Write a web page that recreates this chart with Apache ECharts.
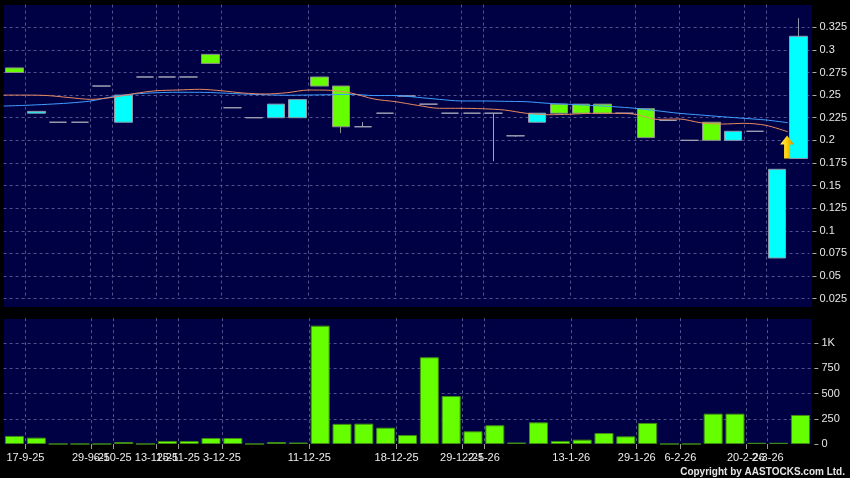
<!DOCTYPE html>
<html><head><meta charset="utf-8">
<script src="https://cdn.jsdelivr.net/npm/echarts@6/dist/echarts.min.js"></script>
<style>html,body{margin:0;padding:0;background:#000;}#c{width:850px;height:478px;}</style>
</head><body><div id="c"></div>
<script>
// ---- data ----
const opens  = [0.28,0.23,0.22,0.22,0.26,0.22,0.27,0.27,0.27,0.295,0.236,0.225,0.225,0.225,0.27,0.26,0.215,0.23,0.249,0.24,0.23,0.23,0.23,0.205,0.22,0.24,0.24,0.24,0.23,0.235,0.222,0.2,0.22,0.2,0.21,0.07,0.18];
const closes = [0.275,0.232,0.22,0.22,0.26,0.25,0.27,0.27,0.27,0.285,0.236,0.225,0.24,0.245,0.26,0.215,0.215,0.23,0.249,0.24,0.23,0.23,0.23,0.205,0.23,0.23,0.23,0.23,0.23,0.203,0.222,0.2,0.2,0.21,0.21,0.168,0.315];
const lows   = [0.275,0.23,0.22,0.22,0.26,0.22,0.27,0.27,0.27,0.285,0.236,0.225,0.225,0.225,0.26,0.208,0.215,0.23,0.249,0.24,0.23,0.23,0.177,0.204,0.22,0.23,0.23,0.23,0.23,0.203,0.222,0.2,0.2,0.2,0.21,0.07,0.18];
const highs  = [0.28,0.232,0.22,0.22,0.26,0.25,0.27,0.27,0.27,0.295,0.236,0.225,0.24,0.245,0.27,0.26,0.22,0.23,0.249,0.24,0.23,0.23,0.23,0.205,0.23,0.24,0.24,0.24,0.23,0.235,0.222,0.2,0.22,0.21,0.21,0.168,0.335];
const volumes = [80,63,0,0,0,20,0,30,30,60,60,0,20,15,1175,200,202,162,89,861,477,126,186,15,215,30,43,109,76,209,0,0,301,301,12,12,288];
const maOrange = [0.250,0.250,0.2495,0.2473,0.2453,0.2475,0.2517,0.2548,0.2556,0.2564,0.2548,0.2523,0.2512,0.2526,0.2556,0.2553,0.2520,0.2457,0.2427,0.2387,0.2354,0.2354,0.2349,0.2335,0.2299,0.2283,0.2288,0.2299,0.2299,0.2288,0.2232,0.2236,0.2195,0.2180,0.2188,0.2166,0.2095];
const maBlue = [0.2379,0.2387,0.2398,0.2412,0.2435,0.2482,0.2512,0.2526,0.2531,0.2531,0.2523,0.2512,0.2504,0.2498,0.2501,0.2504,0.2508,0.2495,0.2495,0.2475,0.2453,0.2435,0.2435,0.2431,0.2427,0.2409,0.2398,0.2385,0.2372,0.2354,0.2327,0.2299,0.2280,0.2261,0.2243,0.2225,0.2195];
// tick labels at slot boundaries (38 boundaries for 37 slots)
const boundaryLabels = ['','17-9-25','','','29-9-25','6-10-25','','13-11-25','25-11-25','','3-12-25','','','','11-12-25','','','','18-12-25','','','29-12-25','2-1-26','','','','13-1-26','','','29-1-26','','6-2-26','','','20-2-26','2-3-26','',''];
const priceAxis = {min: 0.025, max: 0.35, step: 0.025};
const volumeAxis = {min: 0, max: 1250, step: 250};
const arrowIndex = 36;
const copyright = 'Copyright by AASTOCKS.com Ltd.';

// ---- chart ----
const slots = opens.map((_, i) => String(i));
const candles = opens.map((o, i) => [o, closes[i], lows[i], highs[i]]);
const FONT = 'Liberation Sans, Arial, sans-serif';
const GRID_LINE = {color: '#50528c', width: 1, type: [3, 3]};
const labeled = (i, v) => v !== '';
const lastB = boundaryLabels.length - 1;
const labeledOrEnd = (i, v) => v !== '' || i === 0 || i === lastB;

const chart = echarts.init(document.getElementById('c'), null, {renderer: 'canvas'});
chart.setOption({
  animation: false,
  backgroundColor: '#000000',
  textStyle: {fontFamily: FONT},
  graphic: [
    {type: 'rect', z: -10, shape: {x: 4, y: 5, width: 808, height: 302}, style: {fill: '#000045'}, silent: true},
    {type: 'rect', z: -10, shape: {x: 4, y: 319, width: 808, height: 125}, style: {fill: '#000045'}, silent: true},
    {type: 'text', right: 5, bottom: 1, style: {text: copyright, fill: '#e6e6e6', font: 'bold 10px ' + FONT}}
  ],
  grid: [
    {left: 3.6, width: 807.8, top: 4.6, height: 294.1},
    {left: 3.6, width: 807.8, top: 318.1, height: 125.9}
  ],
  xAxis: [
    {type: 'category', gridIndex: 0, position: 'top', data: slots, boundaryGap: true, show: false},
    {type: 'category', gridIndex: 0, position: 'bottom', data: boundaryLabels, boundaryGap: false,
      axisLine: {show: false}, axisTick: {show: false}, axisLabel: {show: false},
      splitLine: {show: true, interval: labeled, lineStyle: GRID_LINE}},
    {type: 'category', gridIndex: 1, position: 'top', data: slots, boundaryGap: true, show: false},
    {type: 'category', gridIndex: 1, position: 'bottom', data: boundaryLabels, boundaryGap: false,
      axisLine: {show: false},
      axisTick: {show: true, interval: labeled, length: 5, lineStyle: {color: '#9a9a9a'}},
      axisLabel: {show: true, interval: labeledOrEnd, color: '#ececec', fontSize: 11, margin: 8, fontFamily: FONT,
        hideOverlap: false},
      splitLine: {show: true, interval: labeled, lineStyle: GRID_LINE}}
  ],
  yAxis: [
    {type: 'value', gridIndex: 0, position: 'right', offset: 3,
      min: priceAxis.min, max: priceAxis.max, interval: priceAxis.step,
      axisLine: {show: false},
      axisTick: {show: true, length: 4, lineStyle: {color: '#aaaaaa'}},
      axisLabel: {color: '#e6e6e6', fontSize: 11, margin: 7, showMaxLabel: false, fontFamily: FONT,
        formatter: v => String(parseFloat(v.toFixed(3)))},
      splitLine: {show: true, showMaxLine: false, lineStyle: GRID_LINE}},
    {type: 'value', gridIndex: 1, position: 'right', offset: 3,
      min: volumeAxis.min, max: volumeAxis.max, interval: volumeAxis.step,
      axisLine: {show: false},
      axisTick: {show: true, length: 4, lineStyle: {color: '#aaaaaa'}},
      axisLabel: {color: '#e6e6e6', fontSize: 11, margin: 7, showMaxLabel: false, fontFamily: FONT,
        formatter: v => v >= 1000 ? (v / 1000) + 'K' : String(v)},
      splitLine: {show: true, showMaxLine: false, showMinLine: false, lineStyle: GRID_LINE}}
  ],
  series: [
    {type: 'candlestick', xAxisIndex: 0, yAxisIndex: 0, data: candles, barWidth: 18, z: 2,
      itemStyle: {color: '#00ffff', color0: '#66ff00', borderColor: '#8f98a8', borderColor0: '#8f8f8f',
        borderColorDoji: '#a4a4b4', borderWidth: 1},
      markPoint: {
        data: [{coord: [slots[arrowIndex], lows[arrowIndex]],
          symbol: 'path://M7 0 L14 9 L10 9 L10 23 L4 23 L4 9 L0 9 Z',
          symbolSize: [14, 23], symbolOffset: [-11.5, -11.5],
          itemStyle: {color: new echarts.graphic.LinearGradient(0, 0, 1, 0, [
            {offset: 0, color: '#fff27a'}, {offset: 0.5, color: '#ffd000'}, {offset: 1, color: '#d08a00'}])},
          label: {show: false}}]
      }},
    {type: 'line', xAxisIndex: 1, yAxisIndex: 0, data: maOrange, symbol: 'none', smooth: 0.3, z: 5,
      lineStyle: {color: '#e8895e', width: 1}},
    {type: 'line', xAxisIndex: 1, yAxisIndex: 0, data: maBlue, symbol: 'none', smooth: 0.3, z: 4,
      lineStyle: {color: '#3f9eff', width: 1}},
    {type: 'bar', xAxisIndex: 2, yAxisIndex: 1, data: volumes, barWidth: 19,
      itemStyle: {color: '#66ff00', borderColor: '#3f8a14', borderWidth: 1}}
  ]
});
</script></body></html>
